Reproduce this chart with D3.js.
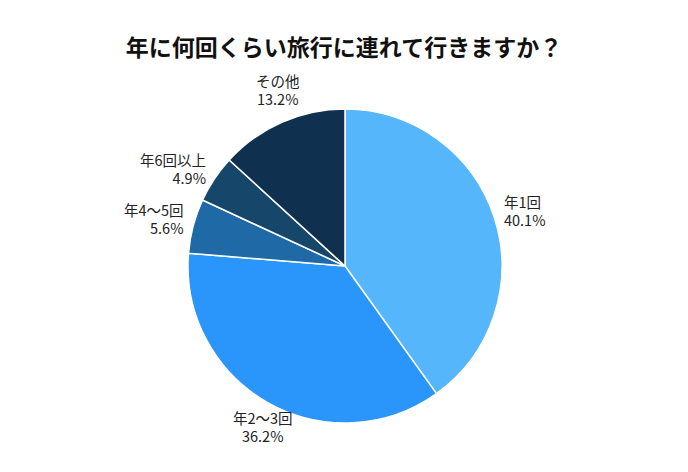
<!DOCTYPE html>
<html><head><meta charset="utf-8">
<script src="https://cdn.jsdelivr.net/npm/d3@7"></script>
<style>body{margin:0;background:#fff;font-family:"Noto Sans CJK JP",sans-serif;}</style>
</head><body><svg id="c" width="688" height="472"></svg>
<script>
var categories = ['年1回', '年2〜3回', '年4〜5回', '年6回以上', 'その他'];
var values = [40.1, 36.2, 5.6, 4.9, 13.2];
var colors = ['#55b6fc', '#2a96fc', '#1f6aa6', '#16476a', '#0f314f'];

var svg = d3.select('#c');
var cx = 345, cy = 266, r = 157;

svg.append('text').attr('x', 344).attr('y', 56).attr('text-anchor', 'middle')
  .attr('font-size', 23).attr('font-weight', 'bold').attr('fill', '#111')
  .text('年に何回くらい旅行に連れて行きますか？');

var data = categories.map(function(c, i) { return { name: c, value: values[i], color: colors[i] }; });
var pie = d3.pie().sort(null).value(function(d) { return d.value; });
var arc = d3.arc().innerRadius(0).outerRadius(r);
var arcs = pie(data);

var g = svg.append('g').attr('transform', 'translate(' + cx + ',' + cy + ')');
g.selectAll('path').data(arcs).enter().append('path')
  .attr('d', arc)
  .attr('fill', function(d) { return d.data.color; })
  .attr('stroke', '#fff').attr('stroke-width', 1.5);

var lr = 167;
arcs.forEach(function(d) {
  var a = (d.startAngle + d.endAngle) / 2;
  var x = lr * Math.sin(a), y = -lr * Math.cos(a);
  var anchor = 'middle', y1, y2;
  if (Math.abs(Math.sin(a)) < 0.6) {
    if (y < 0) { y1 = y - 26; y2 = y - 8; } else { y1 = y + 13; y2 = y + 31; }
  } else {
    anchor = x > 0 ? 'start' : 'end';
    y1 = y - 7; y2 = y + 11;
  }
  var t = g.append('text').attr('text-anchor', anchor).attr('font-size', 14.5).attr('fill', '#222');
  t.append('tspan').attr('x', x).attr('y', y1).text(d.data.name);
  t.append('tspan').attr('x', x).attr('y', y2).text(d.data.value.toFixed(1) + '%');
});
</script></body></html>
